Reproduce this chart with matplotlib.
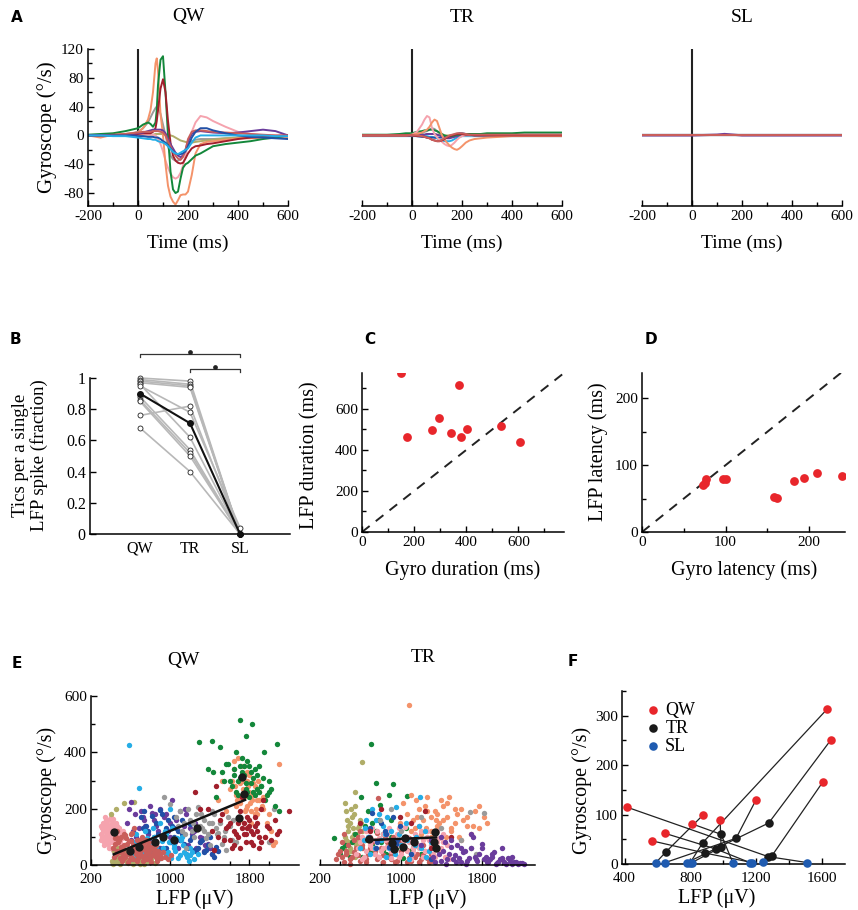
import matplotlib
matplotlib.use('Agg')
import matplotlib.pyplot as plt
from matplotlib.ticker import MultipleLocator, FixedLocator

plt.rcParams['font.family'] = ['Liberation Serif', 'DejaVu Serif']
plt.rcParams['axes.unicode_minus'] = False

# ---------------- colours ----------------
C_SALMON = '#F4936A'
C_GREEN = '#13873A'
C_DARKRED = '#A11F2C'
C_GRAY = '#9A9A9A'
C_PINK = '#F5A3AE'
C_PURPLE = '#6A3C9C'
C_DARKBLUE = '#2150A6'
C_LIGHTBLUE = '#25ADE6'
C_OLIVE = '#B0AD68'
C_INDRED = '#C95E5B'

# ---------------- Panel A data ----------------
t_grid = [-200, -150, -100, -50, -25, 0, 20, 40, 50, 60, 70, 75, 80, 90, 100, 110, 120, 130, 140, 150,
          160, 170, 180, 190, 200, 215, 230, 250, 275, 300, 350, 400, 450, 500, 550, 600]

qw_salmon = [0, -3, 1, 2, 3, 4, 10, 22, 35, 60, 100, 107, 90, 30, 0, -40, -70, -85, -92, -96, -90, -83, -82, -82, -78, -55, -25, -12, -9, -8, -6, -4, -4, -3, -2, -2]
qw_green = [1, 2, 3, 6, 8, 10, 15, 18, 16, 12, 18, 35, 70, 105, 110, 60, 0, -50, -75, -80, -78, -60, -45, -40, -38, -33, -28, -25, -20, -15, -12, -10, -8, -5, -3, 0]
qw_darkred = [0, 0, 0, 1, 1, 2, 3, 3, 3, 5, 10, 20, 35, 65, 78, 60, 20, -10, -28, -35, -38, -39, -38, -32, -25, -18, -15, -14, -12, -11, -8, -5, -3, -2, -1, 0]
qw_gray = [0, 0, 0, 2, 3, 5, 10, 18, 25, 32, 38, 40, 38, 30, 15, 0, -15, -28, -33, -35, -35, -33, -28, -20, -12, -8, -6, -5, -5, -5, -4, -3, -3, -2, -2, -2]
qw_pink = [0, 0, 0, 0, 0, 1, 1, 1, 1, 1, 0, -2, -5, -12, -22, -35, -45, -53, -58, -60, -58, -52, -42, -28, -12, 5, 18, 27, 25, 20, 12, 5, 2, 0, 0, 0]
qw_purple = [0, 0, 0, 1, 2, 3, 4, 6, 7, 8, 8, 8, 8, 8, 7, 3, -5, -12, -18, -24, -28, -30, -28, -20, -8, 2, 5, 6, 5, 4, 3, 4, 6, 8, 6, 0]
qw_darkblue = [0, 0, 0, 0, 0, -1, -1, -2, -2, -2, -3, -3, -3, -5, -8, -10, -14, -18, -22, -25, -26, -26, -25, -22, -15, -3, 5, 10, 10, 7, 3, 0, -2, -3, -4, -5]
qw_lightblue = [0, 0, -1, -1, -2, -3, -4, -5, -5, -6, -6, -7, -8, -9, -10, -12, -15, -19, -23, -25, -26, -24, -22, -20, -18, -10, -3, 0, 0, 0, 0, 0, 0, 0, -1, -1]
qw_olive = [0, 0, 0, 0, 0, 0, 1, 1, 1, 1, 2, 2, 2, 2, 2, 1, 1, 0, -1, -3, -5, -7, -8, -9, -10, -10, -9, -8, -7, -6, -4, -3, -2, -2, -1, -1]
qw_indred = [0, 0, 1, 2, 3, 4, 5, 5, 5, 6, 6, 6, 6, 5, 4, 0, -8, -15, -22, -28, -32, -34, -30, -20, -5, 5, 7, 7, 6, 5, 4, 3, 2, 1, 0, 0]

tr_salmon = [0, 0, 0, 0, 0, 1, 2, 4, 6, 8, 12, 15, 18, 22, 20, 10, 0, -6, -10, -14, -17, -19, -20, -18, -15, -10, -7, -5, -4, -3, -2, -1, -1, -1, -1, -1]
tr_pink = [0, 0, 0, 0, 0, 1, 5, 15, 22, 27, 25, 18, 10, 2, -3, -6, -9, -12, -14, -15, -13, -10, -6, -3, -1, 0, 0, 0, 0, 0, 0, 0, 0, 0, 0, 0]
tr_green = [1, 1, 1, 2, 3, 3, 5, 6, 7, 7, 8, 8, 8, 7, 6, 4, 2, 0, -1, -1, -1, 0, 1, 1, 2, 2, 2, 2, 2, 3, 3, 3, 4, 4, 4, 4]
tr_gray = [0, 0, 0, 0, 1, 1, 2, 3, 5, 6, 8, 9, 10, 9, 6, 3, 0, -2, -3, -3, -2, -1, 0, 0, 0, 0, 0, 0, 0, 0, 0, 0, 0, 0, 0, 0]
tr_darkred = [0, 0, 0, 0, 0, 0, -1, -1, -2, -3, -4, -5, -6, -7, -8, -8, -7, -5, -3, -1, 0, 1, 2, 2, 2, 1, 1, 0, 0, 0, 0, 0, 0, 0, 0, 0]
tr_darkblue = [0, 0, 0, 0, 0, 0, -1, -2, -2, -3, -3, -3, -3, -3, -3, -3, -3, -2, -2, -1, 0, 1, 2, 3, 3, 2, 1, 0, 0, 0, 0, 0, 0, 0, 0, 0]
tr_lightblue = [-1, -1, -1, -1, -1, -1, -1, -1, -1, -1, -2, -2, -2, -3, -4, -6, -7, -8, -8, -8, -7, -5, -3, -2, -1, -1, -1, -1, -1, -1, -1, -1, -1, -1, -1, -1]
tr_purple = [0, 0, 0, 0, 0, 0, 0, 1, 1, 2, 2, 2, 2, 2, 1, 0, -2, -3, -4, -4, -3, -2, -1, 0, 1, 1, 1, 1, 1, 1, 1, 1, 1, 1, 1, 1]
tr_olive = [0, 0, 0, 0, 0, 1, 1, 1, 1, 2, 2, 2, 2, 2, 1, 1, 0, 0, 0, 0, 0, 0, 0, 0, 0, 0, 0, 0, 0, 0, 0, 0, 0, 0, 0, 0]
tr_indred = [0, 0, 0, 0, 0, 0, 0, -1, -2, -3, -4, -5, -6, -7, -8, -8, -6, -4, -2, 0, 1, 2, 3, 3, 3, 2, 1, 1, 1, 1, 1, 1, 1, 1, 1, 1]

t_sl = [-200, 0, 100, 130, 200, 600]
sl_purple = [0, 0, 1, 2, 0, 0]
sl_lightblue = [0, 0, 0, 0, 0, 0]
sl_indred = [0, 0, 0, 0, 0, 0]

# ---------------- Panel B data ----------------
b_conditions = ['QW', 'TR', 'SL']
b_qw = [1.00, 0.99, 0.98, 0.97, 0.96, 0.95, 0.88, 0.86, 0.85, 0.76, 0.68]
b_tr = [0.98, 0.96, 0.95, 0.94, 0.62, 0.78, 0.54, 0.52, 0.50, 0.82, 0.40]
b_sl = [0.00, 0.00, 0.00, 0.00, 0.00, 0.04, 0.00, 0.00, 0.00, 0.00, 0.00]
b_mean = [0.90, 0.71, 0.00]

# ---------------- Panel C / D data ----------------
c_gyro_dur = [148, 174, 270, 295, 340, 371, 380, 403, 534, 605]
c_lfp_dur = [774, 465, 498, 558, 481, 715, 465, 502, 515, 439]

d_gyro_lat = [73, 75, 77, 97, 100, 158, 162, 182, 194, 210, 240]
d_lfp_lat = [70, 74, 79, 79, 80, 52, 51, 76, 81, 88, 84]

# ---------------- Panel E data (QW) ----------------
eq_pink_x = [300, 320, 330, 350, 360, 380, 390, 400, 410, 420, 430, 440, 450, 460, 470, 480, 490, 500, 330, 350, 370, 390, 410, 430, 450, 470, 320, 340, 360, 380, 400, 420, 440, 460, 480, 300, 340, 310, 370, 410, 450, 490,
             305, 315, 325, 335, 345, 355, 365, 375, 385, 395, 405, 415, 425, 435, 445, 455, 465, 475, 485, 495, 515, 525]
eq_pink_y = [110, 150, 90, 160, 130, 120, 95, 140, 105, 165, 125, 85, 150, 110, 95, 130, 80, 100, 70, 120, 75, 165, 60, 140, 70, 115, 130, 100, 145, 60, 170, 55, 100, 80, 120, 90, 170, 130, 105, 125, 90, 60,
             140, 100, 120, 80, 140, 105, 155, 90, 130, 115, 80, 150, 95, 110, 130, 75, 140, 90, 110, 70, 95, 120]
eq_indred_x = [420, 450, 470, 490, 500, 520, 540, 560, 580, 600, 620, 640, 660, 680, 700, 720, 740, 760, 780, 800, 820, 840, 860, 880, 900, 460, 510, 550, 590, 630, 670, 710, 750, 790, 830, 870, 480, 530, 570, 610, 650, 690, 730, 770, 810, 850, 890, 440, 520, 600, 680, 760, 840, 500, 580, 660, 740,
               430, 445, 465, 485, 505, 525, 545, 565, 585, 605, 625, 645, 665, 685, 705, 725, 745, 765, 785, 805, 825, 845, 865, 885, 905, 925, 950, 980, 1010, 455, 535, 615, 695, 775, 855]
eq_indred_y = [60, 40, 80, 25, 100, 55, 30, 75, 45, 110, 20, 65, 90, 35, 55, 15, 85, 40, 70, 25, 60, 45, 30, 50, 35, 120, 15, 95, 20, 130, 25, 100, 20, 50, 80, 20, 45, 70, 10, 60, 40, 75, 30, 65, 10, 45, 25, 95, 35, 85, 50, 90, 40, 55, 50, 45, 60,
               30, 75, 50, 90, 65, 20, 105, 40, 85, 30, 70, 50, 15, 60, 35, 75, 55, 20, 40, 65, 35, 55, 15, 40, 25, 45, 30, 20, 35, 100, 110, 115, 90, 80, 70]
eq_olive_x = [420, 440, 460, 480, 500, 520, 540, 560, 580, 600, 620, 640, 660, 700, 740, 430, 470, 510, 550, 590, 630, 680, 720, 760, 800, 450, 530, 630, 400,
              410, 450, 490, 530, 570, 610, 650, 690, 730, 770, 810, 850]
eq_olive_y = [5, 20, 10, 35, 15, 45, 25, 10, 40, 20, 5, 30, 15, 10, 5, 50, 60, 30, 55, 35, 45, 25, 20, 15, 10, 200, 219, 225, 180,
              15, 30, 5, 20, 8, 12, 25, 5, 15, 30, 20, 8]
eq_purple_x = [560, 600, 640, 680, 700, 740, 780, 820, 860, 900, 940, 980, 1020, 1060, 1100, 1140, 1180, 1220, 1260, 1300, 1340, 1380, 1420, 600, 700, 800, 900, 1000, 1100, 1200, 1300, 1400, 650, 750, 850, 950, 1050, 1150, 1250, 1350, 1450,
               580, 620, 720, 760, 840, 880, 960, 1000, 1080, 1160, 1240, 1320, 1400]
eq_purple_y = [150, 225, 180, 130, 190, 160, 110, 185, 140, 200, 170, 120, 230, 160, 90, 140, 70, 110, 60, 80, 50, 75, 40, 90, 60, 210, 60, 150, 190, 130, 100, 60, 100, 140, 180, 110, 80, 200, 150, 70, 55,
               200, 120, 170, 90, 160, 120, 180, 100, 60, 180, 120, 95, 60]
eq_darkblue_x = [700, 740, 780, 820, 860, 900, 940, 980, 1020, 1060, 1100, 1140, 1180, 1220, 1260, 1300, 1340, 1380, 1420, 1460, 760, 840, 920, 1000, 1080, 1160, 1240, 1320, 1400, 880, 960, 1040, 1120, 1200,
                 720, 800, 880, 960, 1040, 1120, 1200, 1280, 1360, 1440, 1480]
eq_darkblue_y = [170, 190, 120, 175, 150, 195, 110, 160, 140, 130, 90, 75, 60, 100, 50, 80, 45, 70, 40, 65, 140, 100, 180, 80, 120, 40, 55, 90, 100, 60, 130, 170, 110, 145,
                 130, 80, 110, 60, 100, 160, 90, 60, 55, 30, 50]
eq_lightblue_x = [600, 630, 660, 690, 720, 750, 780, 810, 840, 870, 900, 930, 960, 990, 1020, 1050, 1080, 1110, 1140, 1170, 1200, 1240, 1280, 650, 720, 800, 880, 960, 1040, 1120, 1200, 580, 680, 1000,
                  615, 645, 705, 735, 765, 795, 825, 855, 885, 915, 945, 975, 1005, 1035, 1065, 1095, 1125, 1155, 1185, 1215]
eq_lightblue_y = [20, 60, 30, 90, 45, 120, 25, 70, 100, 40, 150, 60, 35, 80, 130, 50, 25, 90, 45, 30, 60, 20, 40, 110, 80, 55, 20, 110, 70, 100, 35, 426, 272, 200,
                  40, 80, 60, 20, 95, 40, 130, 65, 30, 85, 120, 45, 25, 60, 95, 35, 70, 40, 15, 45]
eq_gray_x = [1060, 1100, 1140, 1180, 1220, 1260, 1300, 1340, 1380, 1420, 1460, 1500, 1540, 1580, 1620, 1660, 1120, 1200, 1280, 1360, 1440, 1520, 1600, 1160, 1240, 1320, 1400, 1480, 1560, 940, 1000, 2000, 2050,
             1080, 1150, 1230, 1310, 1390, 1470, 1550, 1630, 1340, 1420]
eq_gray_y = [170, 190, 150, 200, 120, 180, 140, 160, 110, 190, 130, 150, 100, 170, 90, 80, 120, 160, 205, 95, 180, 75, 140, 60, 100, 130, 70, 115, 55, 240, 215, 80, 200,
             140, 110, 150, 180, 150, 110, 120, 160, 120, 150]
eq_salmon_x = [1480, 1520, 1560, 1600, 1640, 1660, 1680, 1700, 1720, 1740, 1760, 1780, 1800, 1820, 1840, 1860, 1880, 1900, 1940, 1980, 2020, 2060, 2100, 1620, 1660, 1700, 1740, 1780, 1820, 1860, 1900, 1700, 1760, 1820, 1880, 1940, 1640, 1720, 1800, 1960, 2040,
               1650, 1690, 1730, 1770, 1810, 1850, 1890, 1930, 1710, 1750, 1790, 1830, 1870, 1670, 2000]
eq_salmon_y = [230, 300, 190, 270, 340, 250, 380, 220, 300, 350, 270, 210, 320, 250, 290, 180, 230, 260, 200, 150, 120, 80, 360, 300, 210, 290, 240, 330, 190, 280, 230, 160, 200, 150, 180, 240, 370, 310, 260, 100, 70,
               280, 240, 270, 300, 220, 250, 300, 210, 350, 190, 280, 230, 200, 230, 180]
eq_green_x = [1380, 1420, 1460, 1500, 1540, 1580, 1620, 1660, 1700, 1740, 1780, 1820, 1860, 1900, 1940, 1980, 2020, 2060, 2100, 1520, 1600, 1680, 1760, 1840, 1920, 2000, 1560, 1640, 1720, 1800, 1880, 1960, 1430, 1290, 1700, 1830, 1760, 1950, 2080,
              1640, 1680, 1720, 1760, 1800, 1840, 1880, 1920, 1660, 1700, 1740, 1780, 1820, 1860, 1900, 2000]
eq_green_y = [340, 440, 240, 420, 300, 360, 280, 400, 350, 320, 370, 290, 340, 260, 310, 250, 270, 210, 190, 330, 300, 250, 270, 310, 280, 300, 360, 320, 380, 240, 270, 230, 330, 438, 515, 500, 458, 400, 430,
              340, 300, 330, 290, 350, 260, 320, 280, 260, 310, 350, 260, 330, 250, 350, 260]
eq_darkred_x = [1380, 1420, 1460, 1500, 1540, 1580, 1620, 1660, 1700, 1740, 1780, 1820, 1860, 1900, 1940, 1980, 2020, 2060, 2100, 2200, 1440, 1520, 1600, 1680, 1760, 1840, 1920, 2000, 1480, 1560, 1640, 1720, 1800, 1880, 1960, 1250, 1300,
                1600, 1640, 1680, 1720, 1760, 1800, 1840, 1880, 1920, 1700, 1740, 1780, 1820, 1860, 1900, 2080]
eq_darkred_y = [200, 120, 280, 160, 90, 140, 60, 110, 190, 150, 130, 80, 170, 100, 230, 140, 90, 160, 120, 190, 55, 180, 90, 150, 110, 70, 200, 130, 100, 130, 70, 240, 160, 120, 100, 260, 200,
                150, 120, 100, 130, 80, 140, 110, 150, 80, 60, 110, 170, 120, 140, 60, 110]
eq_mean_x = [435, 597, 680, 849, 926, 1034, 1269, 1695, 1729, 1749]
eq_mean_y = [116, 50, 65, 80, 98, 89, 130, 168, 314, 251]
eq_fit_x = [430, 1755]
eq_fit_y = [38, 231]

# ---------------- Panel E data (TR) ----------------
et_olive_x = [440, 460, 480, 500, 520, 540, 560, 580, 600, 460, 500, 540, 580, 620, 480, 520, 560, 470, 510, 550, 590, 618, 542, 450,
              450, 490, 530, 570, 610, 470, 510, 550, 590]
et_olive_y = [60, 90, 120, 150, 100, 180, 70, 130, 160, 190, 60, 110, 90, 120, 140, 170, 80, 40, 50, 30, 70, 367, 260, 220,
              100, 80, 130, 110, 150, 160, 200, 210, 140]
et_green_x = [343, 400, 450, 500, 550, 600, 650, 700, 750, 800, 850, 900, 950, 1000, 1050, 1100, 1150, 1200, 701, 758, 924, 884, 1057, 791, 608, 650, 720, 820, 900, 980,
              420, 520, 620, 720, 820, 920, 1020, 1120, 680, 780]
et_green_y = [95, 40, 70, 30, 110, 60, 90, 50, 120, 80, 40, 100, 60, 85, 130, 50, 70, 40, 428, 292, 288, 249, 245, 213, 243, 140, 150, 110, 160, 90,
              60, 80, 30, 70, 55, 45, 25, 60, 190, 160]
et_salmon_x = [990, 1020, 1060, 1100, 1140, 1180, 1220, 1260, 1300, 1340, 1380, 1420, 1460, 1500, 1540, 1580, 1620, 1660, 1700, 1740, 1780, 1820, 1850, 1100, 1200, 1300, 1400, 1500, 1600, 1160, 1260, 1360, 1460, 1560, 1083,
               1120, 1180, 1240, 1300, 1360, 1420, 1480, 1540, 1600, 1660, 1720, 1780, 1150, 1250, 1350, 1450]
et_salmon_y = [150, 220, 180, 250, 130, 200, 160, 240, 120, 190, 150, 210, 170, 130, 200, 100, 160, 140, 110, 190, 130, 170, 150, 120, 110, 100, 230, 120, 90, 170, 190, 140, 220, 180, 568,
               160, 140, 210, 170, 180, 160, 240, 150, 200, 170, 140, 210, 230, 130, 160, 100]
et_indred_x = [360, 400, 440, 480, 520, 560, 600, 640, 680, 720, 760, 800, 840, 880, 920, 960, 1000, 1040, 1080, 1120, 1160, 1200, 1240, 1280, 420, 500, 580, 660, 740, 820, 900, 980, 1060, 1140, 1220, 460, 540, 620, 700, 780, 860, 940, 774,
               380, 420, 460, 500, 540, 580, 620, 660, 700, 740, 780, 820, 860, 900, 940, 980, 1020, 1060, 1100, 1140, 1180, 1220, 1260, 1300, 1320, 440, 600, 760, 920, 1080]
et_indred_y = [20, 50, 10, 70, 30, 60, 15, 90, 40, 80, 20, 60, 100, 30, 70, 15, 50, 90, 25, 60, 40, 20, 50, 10, 80, 5, 100, 20, 50, 10, 40, 80, 10, 30, 70, 40, 90, 60, 100, 30, 80, 10, 237,
               40, 30, 50, 20, 45, 35, 70, 10, 60, 40, 90, 35, 65, 20, 45, 30, 70, 55, 15, 80, 10, 35, 25, 40, 15, 110, 120, 115, 100, 95]
et_pink_x = [560, 600, 640, 680, 720, 760, 800, 840, 880, 920, 960, 1000, 1040, 1080, 1120, 1160, 1200, 1240, 1280, 1320, 1360, 1400, 1440, 620, 700, 780, 860, 940, 1020, 1100, 1180, 1260, 1340, 1420, 660, 740, 820, 900, 980, 1060, 1140, 1220, 1300, 1380,
             580, 620, 660, 700, 740, 780, 820, 860, 900, 940, 980, 1020, 1060, 1100, 1140, 1180, 1220, 1260, 1300, 1340, 1380, 1420, 1460, 1480, 720, 880, 1040, 1200, 1360, 960, 1120]
et_pink_y = [40, 80, 30, 100, 60, 120, 50, 90, 130, 70, 110, 40, 136, 80, 60, 100, 120, 50, 90, 40, 80, 60, 30, 20, 70, 30, 110, 50, 90, 20, 70, 100, 30, 110, 120, 90, 60, 25, 130, 50, 110, 30, 70, 95,
             60, 100, 50, 80, 40, 95, 110, 65, 50, 90, 30, 70, 100, 35, 85, 60, 90, 120, 60, 90, 45, 80, 70, 20, 130, 90, 60, 70, 120, 70, 45]
et_lightblue_x = [600, 650, 700, 750, 800, 850, 900, 950, 1000, 1050, 1100, 1150, 1200, 1250, 1300, 1190, 680, 780, 880, 980, 1080, 1180, 1280, 720, 820, 920,
                  640, 740, 840, 940, 1040, 1140, 1240, 660, 860, 1060]
et_lightblue_y = [60, 130, 40, 160, 90, 30, 120, 207, 70, 150, 40, 100, 60, 30, 80, 243, 100, 180, 60, 110, 20, 140, 50, 200, 140, 80,
                  90, 60, 110, 40, 100, 70, 120, 160, 170, 90]
et_darkblue_x = [690, 720, 760, 800, 840, 880, 920, 960, 990, 750, 850, 950, 700, 1100, 1300]
et_darkblue_y = [100, 183, 80, 150, 120, 65, 170, 90, 140, 60, 110, 75, 130, 40, 20]
et_darkred_x = [1240, 990, 700, 800, 900, 1100, 1300, 1500, 600, 2000]
et_darkred_y = [193, 169, 120, 200, 80, 150, 60, 100, 150, 20]
et_gray_x = [1820, 1687, 790, 900, 1400, 1600, 1700, 1200, 1000, 1750]
et_gray_y = [183, 189, 160, 200, 130, 90, 60, 170, 120, 40]
et_purple_x = [1320, 1360, 1400, 1440, 1480, 1520, 1560, 1600, 1640, 1680, 1720, 1760, 1800, 1840, 1880, 1920, 1960, 2000, 2040, 2080, 2120, 2160, 2200, 1400, 1500, 1600, 1700, 1800, 1900, 2000, 2100, 1450, 1550, 1650, 1750, 1850, 1950, 1300, 1200,
               1340, 1380, 1420, 1460, 1500, 1540, 1580, 1620, 1660, 1700, 1740, 1780, 1820, 1860, 1900, 1940, 1980, 2020, 2060, 2100, 2140, 2180, 2220]
et_purple_y = [30, 60, 15, 80, 40, 20, 70, 10, 50, 25, 100, 15, 60, 30, 20, 45, 10, 25, 5, 15, 10, 5, 8, 100, 90, 60, 110, 75, 40, 60, 30, 5, 10, 5, 20, 10, 8, 90, 70,
               10, 40, 50, 20, 65, 35, 25, 45, 15, 60, 30, 40, 20, 10, 30, 5, 20, 10, 25, 5, 12, 8, 3]
et_mean_x = [681, 917, 934, 1023, 1040, 1133, 1329, 1339, 1345]
et_mean_y = [92, 79, 56, 65, 95, 83, 83, 116, 60]
et_fit_x = [660, 1350]
et_fit_y = [88, 98]

# ---------------- Panel F data ----------------
f_qw_lfp = [414, 564, 646, 812, 877, 981, 1200, 1606, 1634, 1655]
f_qw_gyro = [115, 47, 62, 81, 99, 89, 130, 166, 314, 251]
f_tr_lfp = [1273, 891, 958, 987, 650, 987, 1078, 1297, 875, 1277]
f_tr_gyro = [15, 22, 30, 60, 24, 34, 52, 17, 43, 83]
f_sl_lfp = [1509, 1176, 1161, 1058, 591, 810, 648, 1243, 800, 780]
f_sl_gyro = [3, 3, 3, 3, 3, 3, 3, 5, 3, 3]

# =====================================================
W, H = 858, 910
fig = plt.figure(figsize=(W / 100, H / 100), dpi=100)


def ax_px(x0, y0, x1, y1):
    a = fig.add_axes([x0 / W, 1 - y1 / H, (x1 - x0) / W, (y1 - y0) / H])
    a.patch.set_alpha(0)
    return a


def txt(x, y, s, **kw):
    fig.text(x / W, 1 - y / H, s, ha='center', va='center', **kw)


def style(ax, left=True, ls=11):
    for s in ['top', 'right']:
        ax.spines[s].set_visible(False)
    ax.spines['left'].set_visible(left)
    for s in ['left', 'bottom']:
        ax.spines[s].set_linewidth(1.1)
    ax.tick_params(direction='in', length=4, width=1.0, labelsize=ls, which='major', pad=3)
    ax.tick_params(direction='in', length=3, width=1.0, which='minor')
    if not left:
        ax.tick_params(axis='y', which='both', left=False, labelleft=False)


def panel_label(x, y, s):
    fig.text(x / W, 1 - y / H, s, ha='center', va='center', fontsize=11,
             fontweight='bold', family='DejaVu Sans')


# ---------------- Panel A ----------------
qw_traces = [(qw_gray, C_GRAY), (qw_olive, C_OLIVE), (qw_pink, C_PINK), (qw_salmon, C_SALMON),
             (qw_green, C_GREEN), (qw_darkred, C_DARKRED), (qw_purple, C_PURPLE),
             (qw_indred, C_INDRED), (qw_darkblue, C_DARKBLUE), (qw_lightblue, C_LIGHTBLUE)]
tr_traces = [(tr_gray, C_GRAY), (tr_olive, C_OLIVE), (tr_lightblue, C_LIGHTBLUE), (tr_darkblue, C_DARKBLUE),
             (tr_purple, C_PURPLE), (tr_green, C_GREEN), (tr_pink, C_PINK), (tr_salmon, C_SALMON),
             (tr_darkred, C_DARKRED), (tr_indred, C_INDRED)]
sl_traces = [(sl_lightblue, C_LIGHTBLUE), (sl_purple, C_PURPLE), (sl_indred, C_INDRED)]

a_boxes = [(88, 49, 288, 206), (362, 49, 562, 206), (642, 49, 842, 206)]
a_titles = ['QW', 'TR', 'SL']
for i, (box, title) in enumerate(zip(a_boxes, a_titles)):
    ax = ax_px(*box)
    style(ax, left=(i == 0))
    ax.set_xlim(-200, 600)
    ax.set_ylim(-98, 120)
    ax.axvline(0, color='#222222', lw=1.5, zorder=1)
    if i == 0:
        for vals, col in qw_traces:
            ax.plot(t_grid, vals, color=col, lw=1.4, zorder=2)
    elif i == 1:
        for vals, col in tr_traces:
            ax.plot(t_grid, vals, color=col, lw=1.4, zorder=2)
    else:
        for vals, col in sl_traces:
            ax.plot(t_sl, vals, color=col, lw=1.6, zorder=2)
    ax.xaxis.set_major_locator(FixedLocator([-200, 0, 200, 400, 600]))
    ax.xaxis.set_minor_locator(MultipleLocator(100))
    ax.yaxis.set_major_locator(FixedLocator([-80, -40, 0, 40, 80, 120]))
    ax.yaxis.set_minor_locator(MultipleLocator(20))
    cx = (box[0] + box[2]) / 2
    txt(cx, 17, title, fontsize=14)
    txt(cx, 243, 'Time (ms)', fontsize=14)
txt(47, 127, 'Gyroscope (°/s)', fontsize=15, rotation=90)
panel_label(17, 17, 'A')

# ---------------- Panel B ----------------
axb = ax_px(90, 378, 290, 534)
style(axb, ls=11.5)
axb.set_xlim(0, 4)
axb.set_ylim(0, 1)
xs = [1, 2, 3]
for q, t, s in zip(b_qw, b_tr, b_sl):
    axb.plot(xs, [q, t, s], color='#B8B8B8', lw=1.2, zorder=2, clip_on=False)
for q, t, s in zip(b_qw, b_tr, b_sl):
    axb.plot(xs, [q, t, s], ls='none', marker='o', ms=3.6, mfc='white', mec='#222222',
             mew=0.6, zorder=3, clip_on=False)
axb.plot(xs, b_mean, color='#111111', lw=1.5, marker='o', ms=4, mfc='#111111', mec='#111111',
         zorder=4, clip_on=False)
axb.set_xticks(xs)
axb.set_xticklabels(b_conditions)
axb.tick_params(axis='x', length=0, pad=5)
axb.set_yticks([0, 0.2, 0.4, 0.6, 0.8, 1.0])
axb.set_yticklabels(['0', '0.2', '0.4', '0.6', '0.8', '1'])
sig_pairs = [(1, 3), (2, 3)]
sig_y = [1.152, 1.056]
for (p0, p1), yy in zip(sig_pairs, sig_y):
    axb.plot([p0, p0, p1, p1], [yy - 0.018, yy, yy, yy - 0.018], color='#333333', lw=0.9, clip_on=False)
    axb.plot([(p0 + p1) / 2], [yy + 0.012], marker='o', ms=2.4, color='#222222', clip_on=False)
txt(30, 455, 'Tics per a single\nLFP spike (fraction)', fontsize=13.5, rotation=90, linespacing=1.05)
panel_label(15, 339, 'B')

# ---------------- Panel C ----------------
axc = ax_px(362, 373, 564, 532)
style(axc)
axc.set_xlim(0, 775)
axc.set_ylim(0, 775)
axc.plot([0, 775], [0, 775], color='#222222', lw=1.4, dashes=(5, 4), zorder=1)
axc.scatter(c_gyro_dur, c_lfp_dur, s=40, color='#E8262B', linewidths=0, zorder=3)
axc.xaxis.set_major_locator(FixedLocator([0, 200, 400, 600]))
axc.xaxis.set_minor_locator(MultipleLocator(100))
axc.yaxis.set_major_locator(FixedLocator([0, 200, 400, 600]))
axc.yaxis.set_minor_locator(MultipleLocator(100))
txt(310, 455, 'LFP duration (ms)', fontsize=14.5, rotation=90)
txt(463, 570, 'Gyro duration (ms)', fontsize=14.5)
panel_label(370, 339, 'C')

# ---------------- Panel D ----------------
axd = ax_px(642, 373, 845, 532)
style(axd)
axd.set_xlim(0, 243)
axd.set_ylim(0, 238)
axd.plot([0, 243], [0, 243], color='#222222', lw=1.4, dashes=(5, 4), zorder=1)
axd.scatter(d_gyro_lat, d_lfp_lat, s=40, color='#E8262B', linewidths=0, zorder=3)
axd.xaxis.set_major_locator(FixedLocator([0, 100, 200]))
axd.xaxis.set_minor_locator(MultipleLocator(50))
axd.yaxis.set_major_locator(FixedLocator([0, 100, 200]))
axd.yaxis.set_minor_locator(MultipleLocator(50))
txt(598, 452, 'LFP latency (ms)', fontsize=14.5, rotation=90)
txt(744, 570, 'Gyro latency (ms)', fontsize=14.5)
panel_label(651, 339, 'D')

# ---------------- Panel E ----------------
eq_sets = [(eq_pink_x, eq_pink_y, C_PINK), (eq_olive_x, eq_olive_y, C_OLIVE),
           (eq_purple_x, eq_purple_y, C_PURPLE), (eq_darkblue_x, eq_darkblue_y, C_DARKBLUE),
           (eq_lightblue_x, eq_lightblue_y, C_LIGHTBLUE), (eq_indred_x, eq_indred_y, C_INDRED),
           (eq_gray_x, eq_gray_y, C_GRAY), (eq_salmon_x, eq_salmon_y, C_SALMON),
           (eq_green_x, eq_green_y, C_GREEN), (eq_darkred_x, eq_darkred_y, C_DARKRED)]
et_sets = [(et_olive_x, et_olive_y, C_OLIVE), (et_green_x, et_green_y, C_GREEN),
           (et_salmon_x, et_salmon_y, C_SALMON), (et_indred_x, et_indred_y, C_INDRED),
           (et_pink_x, et_pink_y, C_PINK), (et_lightblue_x, et_lightblue_y, C_LIGHTBLUE),
           (et_darkblue_x, et_darkblue_y, C_DARKBLUE), (et_darkred_x, et_darkred_y, C_DARKRED),
           (et_gray_x, et_gray_y, C_GRAY), (et_purple_x, et_purple_y, C_PURPLE)]

e_boxes = [(91, 696, 299, 865), (320, 696, 535, 865)]
e_sets = [eq_sets, et_sets]
e_means = [(eq_mean_x, eq_mean_y, eq_fit_x, eq_fit_y), (et_mean_x, et_mean_y, et_fit_x, et_fit_y)]
e_titles = [('QW', 183, 660), ('TR', 423, 658)]
for i in range(2):
    ax = ax_px(*e_boxes[i])
    style(ax, left=(i == 0))
    ax.set_xlim(200, 2300 if i == 0 else 2330)
    ax.set_ylim(0, 600)
    for xv, yv, col in e_sets[i]:
        ax.scatter(xv, yv, s=15, color=col, linewidths=0, zorder=2, clip_on=False)
    mx, my, fx, fy = e_means[i]
    ax.plot(fx, fy, color='#111111', lw=1.8, zorder=3)
    ax.scatter(mx, my, s=36, color='#1a1a1a', linewidths=0, zorder=4)
    ax.xaxis.set_major_locator(FixedLocator([200, 1000, 1800]))
    ax.xaxis.set_minor_locator(MultipleLocator(400))
    ax.yaxis.set_major_locator(FixedLocator([0, 200, 400, 600]))
    ax.yaxis.set_minor_locator(MultipleLocator(100))
    ax.tick_params(axis='x', pad=6)
    t, tx, ty = e_titles[i]
    txt(tx, ty, t, fontsize=14)
    txt((e_boxes[i][0] + e_boxes[i][2]) / 2, 899, 'LFP (μV)', fontsize=14.5)
txt(47, 790, 'Gyroscope (°/s)', fontsize=14.5, rotation=90)
panel_label(17, 663, 'E')

# ---------------- Panel F ----------------
axf = ax_px(622, 691, 845, 864)
style(axf)
axf.set_xlim(384, 1741)
axf.set_ylim(0, 350)
for i in range(len(f_qw_lfp)):
    axf.plot([f_qw_lfp[i], f_tr_lfp[i], f_sl_lfp[i]], [f_qw_gyro[i], f_tr_gyro[i], f_sl_gyro[i]],
             color='#222222', lw=0.9, zorder=1)
axf.scatter(f_qw_lfp, f_qw_gyro, s=38, color='#E8262B', linewidths=0, zorder=3, label='QW', clip_on=False)
axf.scatter(f_tr_lfp, f_tr_gyro, s=38, color='#1a1a1a', linewidths=0, zorder=3, label='TR', clip_on=False)
axf.scatter(f_sl_lfp, f_sl_gyro, s=38, color='#1F5BB0', linewidths=0, zorder=3, label='SL', clip_on=False)
axf.xaxis.set_major_locator(FixedLocator([400, 800, 1200, 1600]))
axf.xaxis.set_minor_locator(MultipleLocator(200))
axf.yaxis.set_major_locator(FixedLocator([0, 100, 200, 300]))
axf.yaxis.set_minor_locator(MultipleLocator(50))
axf.tick_params(axis='x', pad=6)
leg = axf.legend(loc='upper left', bbox_to_anchor=(0.04, 1.0), frameon=False, fontsize=13,
                 handletextpad=0.1, labelspacing=0.05, borderaxespad=0.2, handlelength=1.2)
txt(582, 790, 'Gyroscope (°/s)', fontsize=14.5, rotation=90)
txt(717, 898, 'LFP (μV)', fontsize=14.5)
panel_label(573, 661, 'F')

fig.savefig('out.png', dpi=100)
